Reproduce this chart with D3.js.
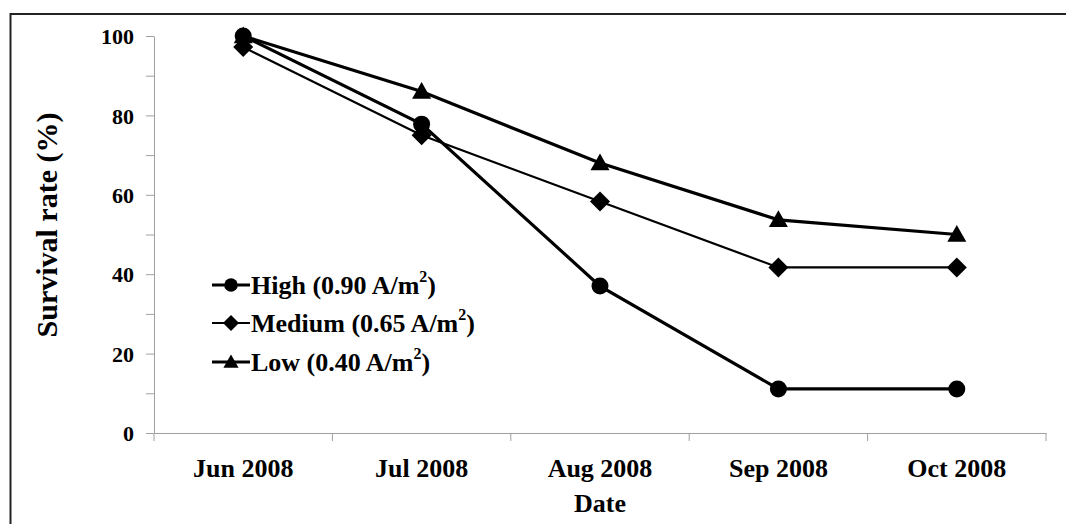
<!DOCTYPE html>
<html>
<head>
<meta charset="utf-8">
<script src="https://cdn.jsdelivr.net/npm/d3@7"></script>
<style>
  body { margin: 0; background: #fff; }
  svg text { font-family: "Liberation Serif", "Times New Roman", serif; font-weight: bold; fill: #000; }
</style>
</head>
<body>
<div id="chart"></div>
<script>
//Survival rate by month for the three current densities
let months = ['Jun 2008', 'Jul 2008', 'Aug 2008', 'Sep 2008', 'Oct 2008'];
let high_values = [100, 77.8, 37, 11.1, 11.1];
let medium_values = [97.2, 75, 58.3, 41.7, 41.7];
let low_values = [100, 86, 68, 53.7, 50];
let series_names = ['High (0.90 A/m', 'Medium (0.65 A/m', 'Low (0.40 A/m'];
let y_ticks = [0, 20, 40, 60, 80, 100];

let width = 1066, height = 524;
let plot = {left: 154, right: 1046, top: 36, bottom: 433};

let svg = d3.select('#chart').append('svg').attr('width', width).attr('height', height);

//Outer frame (runs off the right and bottom edges)
svg.append('rect').attr('x', 10.5).attr('y', 14).attr('width', 1100).attr('height', 600)
    .attr('fill', 'none').attr('stroke', '#222').attr('stroke-width', 2);

let x = d3.scaleBand().domain(months).range([plot.left, plot.right]);
let y = d3.scaleLinear().domain([0, 100]).range([plot.bottom, plot.top]);
let cx = d => x(d) + x.bandwidth() / 2;

//Y axis: ticks every 10, labels every 20
let yAxis = svg.append('g').attr('transform', 'translate(' + plot.left + ',0)')
    .call(d3.axisLeft(y).tickValues(d3.range(0, 101, 10)).tickSize(8).tickSizeOuter(0)
        .tickFormat(d => y_ticks.includes(d) ? d : ''));
yAxis.selectAll('path, line').attr('stroke', '#a0a0a0');
yAxis.selectAll('text').attr('x', -20).attr('dy', '0.35em').style('font-size', '22px');

//X axis with ticks at category boundaries
let xAxis = svg.append('g').attr('transform', 'translate(0,' + plot.bottom + ')')
    .call(d3.axisBottom(x).tickSize(0).tickSizeOuter(0));
xAxis.select('path').attr('stroke', '#a0a0a0');
xAxis.selectAll('text').attr('y', 0).attr('dy', 44).style('font-size', '26px');
let bounds = months.map(m => x(m)).concat([plot.right]);
xAxis.selectAll('.bound').data(bounds).enter().append('line')
    .attr('x1', d => d).attr('x2', d => d).attr('y1', 0).attr('y2', 8)
    .attr('stroke', '#a0a0a0');

//Axis titles
svg.append('text').attr('x', cx(months[2])).attr('y', 512).attr('text-anchor', 'middle')
    .style('font-size', '26px').text('Date');
svg.append('text').attr('transform', 'translate(57,225) rotate(-90)').attr('text-anchor', 'middle')
    .style('font-size', '30px').text('Survival rate (%)');

//Marker shapes
function drawMarker(g, shape, px, py, s) {
    if (shape === 'circle') {
        g.append('circle').attr('cx', px).attr('cy', py).attr('r', s).attr('fill', '#000');
    } else if (shape === 'diamond') {
        g.append('path').attr('d', 'M' + px + ',' + (py - s) + 'L' + (px + s) + ',' + py + 'L' + px + ',' + (py + s) + 'L' + (px - s) + ',' + py + 'Z').attr('fill', '#000');
    } else {
        g.append('path').attr('d', 'M' + px + ',' + (py - s) + 'L' + (px + s) + ',' + (py + s * 0.75) + 'L' + (px - s) + ',' + (py + s * 0.75) + 'Z').attr('fill', '#000');
    }
}

let series = [
    {values: high_values, shape: 'circle', lw: 3.2, size: 8.5},
    {values: medium_values, shape: 'diamond', lw: 2.2, size: 10},
    {values: low_values, shape: 'triangle', lw: 3.2, size: 9.5}
];

let line = d3.line().x((d, i) => cx(months[i])).y(d => y(d));
series.forEach(s => {
    let g = svg.append('g');
    g.append('path').datum(s.values).attr('d', line).attr('fill', 'none')
        .attr('stroke', '#000').attr('stroke-width', s.lw);
    s.values.forEach((v, i) => drawMarker(g, s.shape, cx(months[i]), y(v), s.size));
});

//Legend
let legend_y = [285, 323, 362];
series.forEach((s, i) => {
    let g = svg.append('g');
    g.append('line').attr('x1', 212).attr('x2', 250).attr('y1', legend_y[i]).attr('y2', legend_y[i])
        .attr('stroke', '#000').attr('stroke-width', s.lw);
    drawMarker(g, s.shape, 231, legend_y[i], s.size * 0.8);
    let t = g.append('text').attr('x', 251).attr('y', legend_y[i] + 9).style('font-size', '26px');
    t.append('tspan').text(series_names[i]);
    t.append('tspan').attr('dy', -12).style('font-size', '16px').text('2');
    t.append('tspan').attr('dy', 12).text(')');
});
</script>
</body>
</html>
